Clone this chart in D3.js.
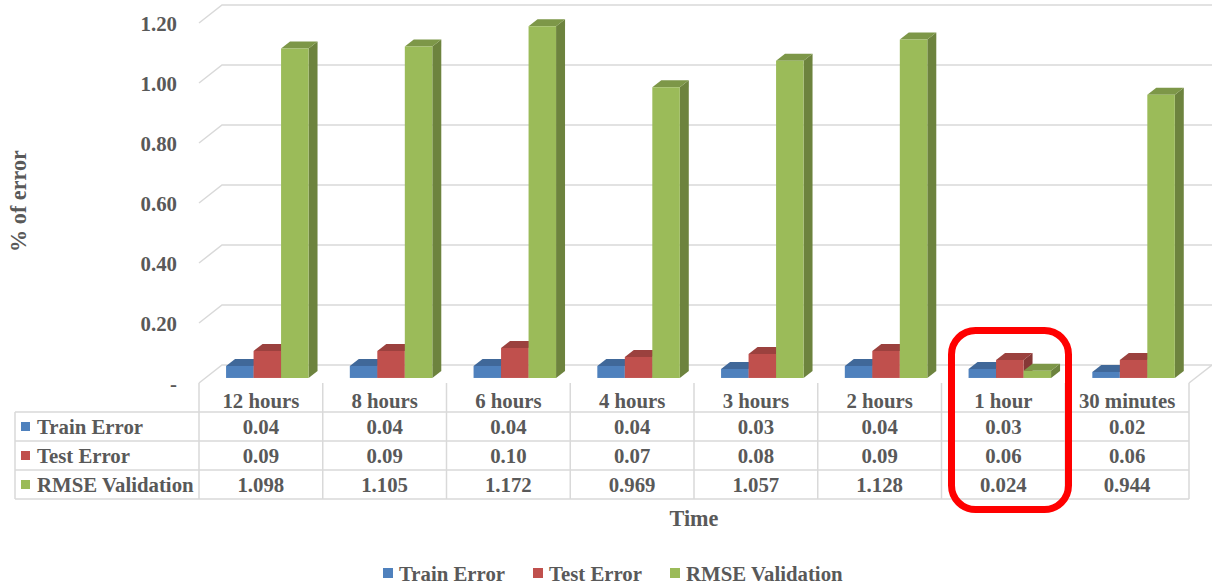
<!DOCTYPE html>
<html>
<head>
<meta charset="utf-8">
<script src="https://cdn.jsdelivr.net/npm/d3@7"></script>
<style>
  html, body { margin: 0; padding: 0; background: #fff; }
  svg { display: block; }
  text { font-family: "Liberation Serif", "Times New Roman", serif; font-weight: bold; fill: #595959; }
</style>
</head>
<body>
<svg id="chart" width="1212" height="584"></svg>
<script>
const categories = ["12 hours", "8 hours", "6 hours", "4 hours", "3 hours", "2 hours", "1 hour", "30 minutes"];
const seriesNames = ["Train Error", "Test Error", "RMSE Validation"];
const trainError = [0.04, 0.04, 0.04, 0.04, 0.03, 0.04, 0.03, 0.02];
const testError = [0.09, 0.09, 0.10, 0.07, 0.08, 0.09, 0.06, 0.06];
const rmseValidation = [1.098, 1.105, 1.172, 0.969, 1.057, 1.128, 0.024, 0.944];
const yTicks = [0, 0.2, 0.4, 0.6, 0.8, 1.0, 1.2];
const tickLabels = ["-", "0.20", "0.40", "0.60", "0.80", "1.00", "1.20"];
const highlighted = "1 hour";

const seriesValues = [trainError, testError, rmseValidation];
const seriesFormats = [d3.format(".2f"), d3.format(".2f"), d3.format(".3f")];
const colors = ["#4F81BD", "#C0504D", "#9BBB59"];

const FS = "20.8px", FT = "22.2px";
const svg = d3.select("#chart");

// geometry
const plotLeft = 199, plotRight = 1189;
const depthDX = 23, depthDY = 18;       // full depth of the 3D floor
const barD0 = 0.28, barD1 = 0.67;       // bar depth range (fraction of floor depth)
const x = d3.scaleBand().domain(categories).range([plotLeft, plotRight]);
const yFront = d3.scaleLinear().domain([0, 1.2]).range([383, 23]);
const groupW = 82.5;
const sub = d3.scaleBand().domain(seriesNames).range([0, groupW]);
const P = (px, v, d) => [px + depthDX * d, yFront(v) - depthDY * d];

const grid = svg.append("g").attr("fill", "none").attr("stroke", "#D9D9D9").attr("stroke-width", 1.5);
const line = d3.line();
yTicks.forEach(v => {
  grid.append("path").attr("d", line([P(plotLeft, v, 0), P(plotLeft, v, 1), [1212, yFront(v) - depthDY]]));
});
// floor right diagonal
grid.append("path").attr("d", line([P(plotRight, 0, 0), P(plotRight, 0, 1)]));

// y tick labels
svg.append("g").selectAll("text").data(yTicks).join("text")
  .attr("x", 177).attr("y", d => yFront(d))
  .attr("text-anchor", "end").attr("dominant-baseline", "central")
  .style("font-size", FS)
  .text((d, i) => tickLabels[i]);

// bars
const barsG = svg.append("g");
categories.forEach((cat, ci) => {
  const gx = x(cat) + (x.bandwidth() - groupW) / 2;
  seriesNames.forEach((s, si) => {
    const v = seriesValues[si][ci];
    const x0 = gx + sub(s), x1 = x0 + sub.bandwidth();
    const c = d3.color(colors[si]);
    const front = [P(x0, 0, barD0), P(x1, 0, barD0), P(x1, v, barD0), P(x0, v, barD0)];
    const side = [P(x1, 0, barD0), P(x1, 0, barD1), P(x1, v, barD1), P(x1, v, barD0)];
    const top = [P(x0, v, barD0), P(x1, v, barD0), P(x1, v, barD1), P(x0, v, barD1)];
    barsG.append("path").attr("d", "M" + side.join("L") + "Z").attr("fill", c.darker(1.0));
    barsG.append("path").attr("d", "M" + top.join("L") + "Z").attr("fill", c.darker(0.6));
    barsG.append("path").attr("d", "M" + front.join("L") + "Z").attr("fill", colors[si]);
  });
});

// data table
const tbl = svg.append("g");
const rowTop = [412, 441, 470, 499];
const tableLeft = 15;
const border = tbl.append("g").attr("stroke", "#D9D9D9").attr("stroke-width", 1.5).attr("fill", "none");
rowTop.forEach(y => border.append("line").attr("x1", tableLeft).attr("x2", plotRight).attr("y1", y).attr("y2", y));
border.append("line").attr("x1", tableLeft).attr("x2", tableLeft).attr("y1", rowTop[0]).attr("y2", rowTop[3]);
categories.forEach(cat => border.append("line").attr("x1", x(cat)).attr("x2", x(cat)).attr("y1", 383).attr("y2", rowTop[3]));
border.append("line").attr("x1", plotRight).attr("x2", plotRight).attr("y1", 383).attr("y2", rowTop[3]);

tbl.selectAll("text.cat").data(categories).join("text").attr("class", "cat")
  .attr("x", d => x(d) + x.bandwidth() / 2).attr("y", 400)
  .attr("text-anchor", "middle").attr("dominant-baseline", "central")
  .style("font-size", FS).text(d => d);

seriesNames.forEach((s, si) => {
  const cy = (rowTop[si] + rowTop[si + 1]) / 2;
  tbl.append("rect").attr("x", 21).attr("y", cy - 4.5).attr("width", 9).attr("height", 9).attr("fill", colors[si]);
  tbl.append("text").attr("x", 37).attr("y", cy).attr("dominant-baseline", "central")
    .style("font-size", FS).text(s);
  tbl.append("g").selectAll("text").data(seriesValues[si]).join("text")
    .attr("x", (d, i) => x(categories[i]) + x.bandwidth() / 2).attr("y", cy)
    .attr("text-anchor", "middle").attr("dominant-baseline", "central")
    .style("font-size", FS).text(d => seriesFormats[si](d));
});

// axis titles
svg.append("text").attr("x", 694).attr("y", 518).attr("text-anchor", "middle")
  .attr("dominant-baseline", "central").style("font-size", FT).text("Time");
svg.append("text").attr("transform", "translate(18,201) rotate(-90)").attr("text-anchor", "middle")
  .attr("dominant-baseline", "central").style("font-size", FT).text("% of error");

// legend
const legend = svg.append("g");
const legendX = [383, 533, 670];
seriesNames.forEach((s, si) => {
  legend.append("rect").attr("x", legendX[si]).attr("y", 568).attr("width", 10).attr("height", 10).attr("fill", colors[si]);
  legend.append("text").attr("x", legendX[si] + 16).attr("y", 573).attr("dominant-baseline", "central")
    .style("font-size", FS).text(s);
});

// highlight box
const hx = x(highlighted);
svg.append("rect").attr("x", hx + 10).attr("y", 330.5).attr("width", 117).attr("height", 179)
  .attr("rx", 24).attr("ry", 24).attr("fill", "none").attr("stroke", "#FF0000").attr("stroke-width", 7);
</script>
</body>
</html>
